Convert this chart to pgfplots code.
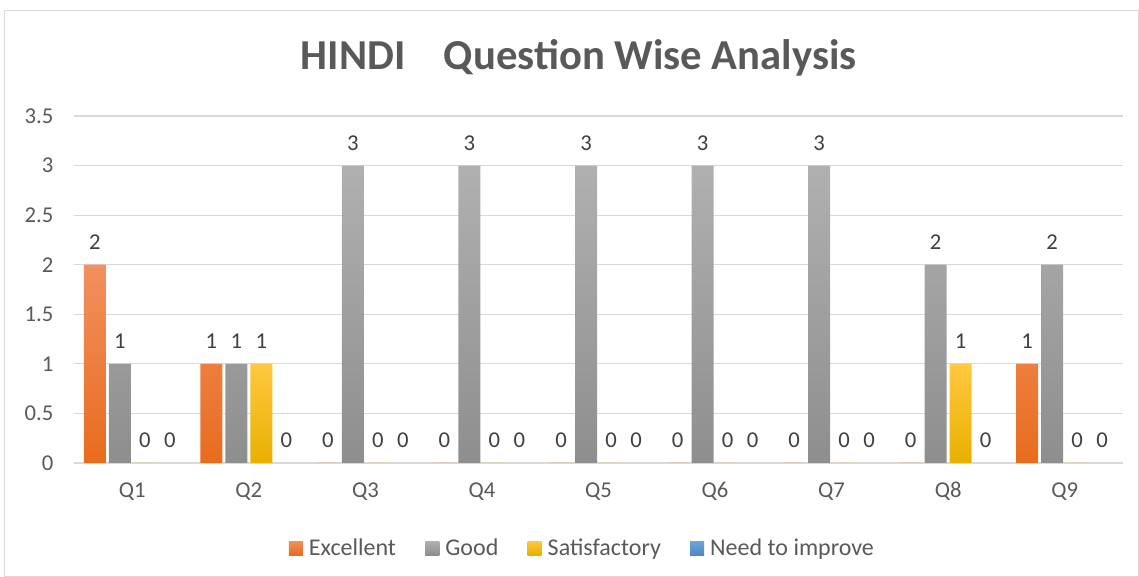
\documentclass[border=0pt]{standalone}
\usepackage{pgfplots}
\pgfplotsset{compat=1.18}
\usepackage{fontspec}
\setmainfont{Carlito}
\definecolor{exTop}{HTML}{F29060}
\definecolor{exBot}{HTML}{E86C1E}
\definecolor{gdTop}{HTML}{B0B0B0}
\definecolor{gdBot}{HTML}{8E8E8E}
\definecolor{saTop}{HTML}{FFC840}
\definecolor{saBot}{HTML}{E8B000}
\definecolor{niTop}{HTML}{6CA6DA}
\definecolor{niBot}{HTML}{4A89C6}
\definecolor{gridc}{HTML}{D9D9D9}
\definecolor{txt}{HTML}{595959}
\definecolor{lbl}{HTML}{404040}
\begin{document}
\begin{tikzpicture}
\useasboundingbox (0,0) rectangle (854.25pt,432.75pt);
\draw[gridc] (3pt,0.75pt) rectangle (853.5pt,425.25pt);
\node[font=\fontsize{32}{38}\selectfont\bfseries, text=txt] at (434pt,389pt) {HINDI\hspace{0.9em}Question Wise Analysis};
\begin{axis}[
  at={(55.5pt,85.5pt)}, anchor=south west,
  scale only axis, width=786.75pt, height=260.25pt,
  ybar=2.25pt, bar width=16.5pt,
  xmin=-0.5, xmax=8.5, ymin=0, ymax=3.5,
  xtick={0,1,2,3,4,5,6,7,8},
  xticklabels={Q1,Q2,Q3,Q4,Q5,Q6,Q7,Q8,Q9},
  ytick={0,0.5,1,1.5,2,2.5,3,3.5},
  yticklabels={0,0.5,1,1.5,2,2.5,3,3.5},
  /pgf/number format/assume math mode=true,
  axis x line*=bottom, axis y line*=left,
  x axis line style={-, draw=gridc, line width=0.9pt},
  y axis line style={draw=none},
  major tick length=0pt,
  ymajorgrids, grid style={draw=gridc, line width=0.9pt},
  ticklabel style={font=\fontsize{17}{20}\selectfont, text=txt},
  xticklabel style={yshift=-11pt},
  yticklabel style={xshift=-12pt},
  nodes near coords,
  every node near coord/.append style={font=\fontsize{17}{20}\selectfont, text=lbl, yshift=8pt},
  legend columns=4,
  legend style={draw=none, fill=none, at={(0.485,-0.245)}, anchor=center,
    font=\fontsize{18}{21}\selectfont, text=txt,
    /tikz/every odd column/.append style={column sep=2.5pt},
    /tikz/every even column/.append style={column sep=20pt}},
]
\addplot[draw=none, top color=exTop, bottom color=exBot, legend image code/.code={\path[draw=none, top color=exTop, bottom color=exBot] (0pt,-5.25pt) rectangle (10.5pt,5.25pt);}] coordinates {(0,2) (1,1) (2,0) (3,0) (4,0) (5,0) (6,0) (7,0) (8,1)};
\addplot[draw=none, top color=gdTop, bottom color=gdBot, legend image code/.code={\path[draw=none, top color=gdTop, bottom color=gdBot] (0pt,-5.25pt) rectangle (10.5pt,5.25pt);}] coordinates {(0,1) (1,1) (2,3) (3,3) (4,3) (5,3) (6,3) (7,2) (8,2)};
\addplot[draw=none, top color=saTop, bottom color=saBot, legend image code/.code={\path[draw=none, top color=saTop, bottom color=saBot] (0pt,-5.25pt) rectangle (10.5pt,5.25pt);}] coordinates {(0,0) (1,1) (2,0) (3,0) (4,0) (5,0) (6,0) (7,1) (8,0)};
\addplot[draw=none, top color=niTop, bottom color=niBot, legend image code/.code={\path[draw=none, top color=niTop, bottom color=niBot] (0pt,-5.25pt) rectangle (10.5pt,5.25pt);}] coordinates {(0,0) (1,0) (2,0) (3,0) (4,0) (5,0) (6,0) (7,0) (8,0)};
\legend{Excellent, Good, Satisfactory, Need to improve}
\end{axis}
\end{tikzpicture}
\end{document}
